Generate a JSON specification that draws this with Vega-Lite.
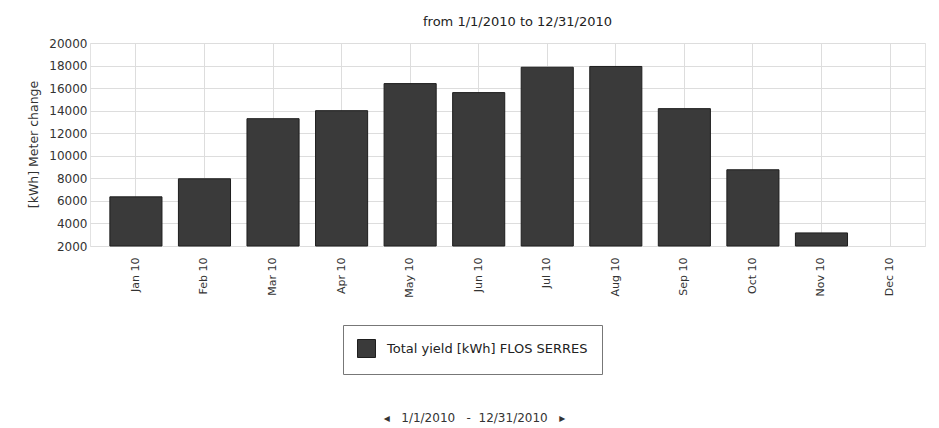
{
  "$schema": "https://vega.github.io/schema/vega-lite/v6.json",
  "autosize": {"type": "none"},
  "width": 835,
  "height": 203,
  "padding": {"left": 90, "top": 43, "right": 14, "bottom": 182},
  "background": "#ffffff",
  "title": {
    "text": "from 1/1/2010 to 12/31/2010",
    "anchor": "middle",
    "dx": 10,
    "offset": 8,
    "fontSize": 13,
    "fontWeight": "normal",
    "font": "DejaVu Sans",
    "color": "#222222"
  },
  "data": {
    "values": [
      {"month": "Jan 10", "yield": 6360, "series": "Total yield [kWh] FLOS SERRES"},
      {"month": "Feb 10", "yield": 7960, "series": "Total yield [kWh] FLOS SERRES"},
      {"month": "Mar 10", "yield": 13290, "series": "Total yield [kWh] FLOS SERRES"},
      {"month": "Apr 10", "yield": 14000, "series": "Total yield [kWh] FLOS SERRES"},
      {"month": "May 10", "yield": 16400, "series": "Total yield [kWh] FLOS SERRES"},
      {"month": "Jun 10", "yield": 15600, "series": "Total yield [kWh] FLOS SERRES"},
      {"month": "Jul 10", "yield": 17850, "series": "Total yield [kWh] FLOS SERRES"},
      {"month": "Aug 10", "yield": 17920, "series": "Total yield [kWh] FLOS SERRES"},
      {"month": "Sep 10", "yield": 14180, "series": "Total yield [kWh] FLOS SERRES"},
      {"month": "Oct 10", "yield": 8760, "series": "Total yield [kWh] FLOS SERRES"},
      {"month": "Nov 10", "yield": 3160, "series": "Total yield [kWh] FLOS SERRES"},
      {"month": "Dec 10", "yield": null, "series": "Total yield [kWh] FLOS SERRES"}
    ]
  },
  "mark": {"type": "bar", "stroke": "#1e1e1e", "strokeWidth": 1},
  "encoding": {
    "x": {
      "field": "month",
      "type": "ordinal",
      "sort": null,
      "scale": {
        "domain": ["Jan 10", "Feb 10", "Mar 10", "Apr 10", "May 10", "Jun 10", "Jul 10", "Aug 10", "Sep 10", "Oct 10", "Nov 10", "Dec 10"],
        "paddingInner": 0.24,
        "paddingOuter": 0.21,
        "align": 0.69
      },
      "axis": {
        "title": "◂\u00a0\u00a0\u00a01/1/2010\u00a0\u00a0\u00a0-\u00a0\u00a012/31/2010\u00a0\u00a0\u00a0▸",
        "titleX": 384,
        "titleY": 171,
        "titleAlign": "center",
        "titleBaseline": "middle",
        "titleFont": "DejaVu Sans",
        "titleFontSize": 12,
        "titleFontWeight": "normal",
        "titleColor": "#333333",
        "labelAngle": 270,
        "labelFont": "DejaVu Sans",
        "labelFontSize": 11,
        "labelColor": "#333333",
        "labelPadding": 11,
        "ticks": false,
        "domain": false,
        "grid": true,
        "bandPosition": 0.5,
        "gridColor": "#dddddd",
        "gridWidth": 1
      }
    },
    "y": {
      "field": "yield",
      "type": "quantitative",
      "scale": {"domain": [2000, 20000], "nice": false, "zero": false},
      "axis": {
        "title": "[kWh] Meter change",
        "titleFont": "DejaVu Sans",
        "titleFontSize": 12.5,
        "titleFontWeight": "normal",
        "titleColor": "#333333",
        "titleX": -57,
        "titleY": 101,
        "titleAlign": "center",
        "titleBaseline": "middle",
        "titleAngle": 270,
        "values": [2000, 4000, 6000, 8000, 10000, 12000, 14000, 16000, 18000, 20000],
        "format": "d",
        "labelFont": "DejaVu Sans",
        "labelFontSize": 12,
        "labelColor": "#333333",
        "labelPadding": 3,
        "ticks": false,
        "domain": false,
        "grid": true,
        "gridColor": "#dddddd",
        "gridWidth": 1
      }
    },
    "y2": {"datum": 2000},
    "color": {
      "field": "series",
      "type": "nominal",
      "scale": {"range": ["#3a3a3a"]},
      "legend": {
        "title": null,
        "orient": "none",
        "legendX": 253,
        "legendY": 282,
        "padding": 14,
        "strokeColor": "#777777",
        "fillColor": "#ffffff",
        "symbolType": "square",
        "symbolSize": 324,
        "symbolStrokeColor": "#1e1e1e",
        "symbolStrokeWidth": 1,
        "labelFont": "DejaVu Sans",
        "labelFontSize": 13,
        "labelColor": "#222222",
        "labelOffset": 11,
        "labelLimit": 400
      }
    }
  },
  "config": {
    "view": {"stroke": "#e2e2e2"}
  }
}
